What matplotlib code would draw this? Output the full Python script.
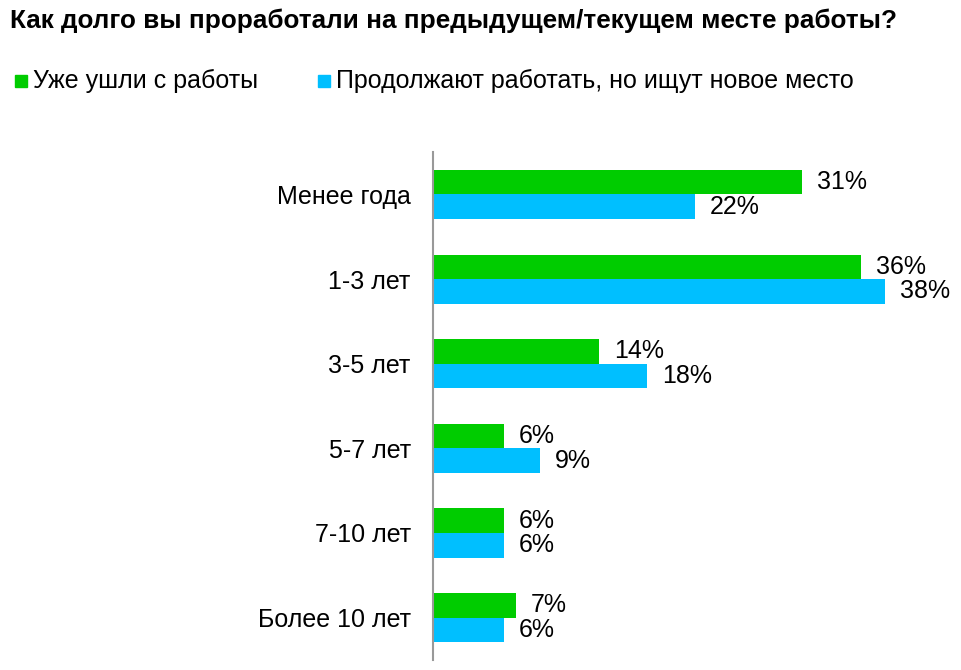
import matplotlib.pyplot as plt
from matplotlib.patches import Rectangle
import numpy as np

plt.rcParams['font.family'] = ['Liberation Sans', 'DejaVu Sans']

categories = ['Менее года', '1-3 лет', '3-5 лет', '5-7 лет', '7-10 лет', 'Более 10 лет']
left_job = [31, 36, 14, 6, 6, 7]
still_working = [22, 38, 18, 9, 6, 6]
series_names = ['Уже ушли с работы', 'Продолжают работать, но ищут новое место']
title = 'Как долго вы проработали на предыдущем/текущем месте работы?'

green = '#00cc00'
blue = '#00bfff'

fig = plt.figure(figsize=(9.62, 6.70), dpi=100)
ax = fig.add_axes([0.450, 0.015, 0.4946, 0.758])

y = np.arange(len(categories))
h = 0.29
ax.barh(y - h / 2, left_job, height=h, color=green)
ax.barh(y + h / 2, still_working, height=h, color=blue)

for yi, v in zip(y, left_job):
    ax.text(v + 1.25, yi - h / 2, f'{v}%', va='center', ha='left', fontsize=18)
for yi, v in zip(y, still_working):
    ax.text(v + 1.25, yi + h / 2, f'{v}%', va='center', ha='left', fontsize=18)

ax.set_xlim(0, 40)
ax.set_ylim(len(categories) - 0.5, -0.5)
ax.set_yticks(y)
ax.set_yticklabels(categories, fontsize=18)
ax.tick_params(axis='y', length=0, pad=16)
ax.set_xticks([])
for s in ['top', 'right', 'bottom']:
    ax.spines[s].set_visible(False)
ax.spines['left'].set_color('#999999')
ax.spines['left'].set_linewidth(1.5)

fig.text(10 / 962, 1 - 21 / 670, title, fontsize=18.8, fontweight='bold',
         ha='left', va='center')

# legend
for x0, col, name in [(15, green, series_names[0]), (318, blue, series_names[1])]:
    fig.patches.append(Rectangle((x0 / 962, 1 - 87 / 670), 12 / 962, 12 / 670,
                                 transform=fig.transFigure, color=col))
    fig.text((x0 + 18) / 962, 1 - 81 / 670, name, fontsize=18, ha='left', va='center')

fig.savefig('out.png', dpi=100)
